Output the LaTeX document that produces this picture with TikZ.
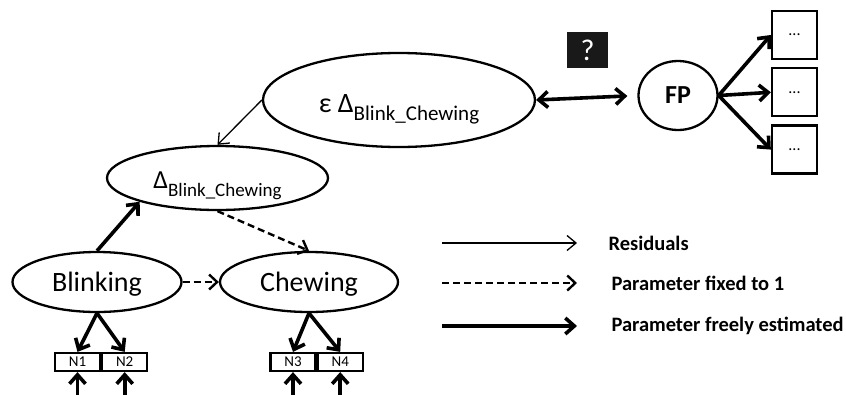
\documentclass[tikz,border=0pt]{standalone}
\usepackage{fontspec}
\setmainfont{Carlito}
\usetikzlibrary{arrows.meta,positioning,shapes.geometric}

\begin{document}
\begin{tikzpicture}[
    x=1pt, y=-1pt,
    latent/.style={ellipse,draw,line width=2.3pt,inner sep=0pt},
    indic/.style={rectangle,draw,line width=2.2pt,minimum width=45pt,minimum height=18pt,inner sep=0pt,font=\fontsize{15}{16}\selectfont},
    outbox/.style={rectangle,draw,line width=2.3pt,minimum width=45pt,minimum height=48pt,inner sep=0pt,font=\fontsize{16}{16}\selectfont},
    resid/.style={line width=1.3pt,-{Straight Barb[length=9pt,width=15pt]}},
    fixed/.style={line width=2.4pt,dash pattern=on 7pt off 4pt,-{Straight Barb[length=8pt,width=15pt]}},
    free/.style={line width=3.6pt,-{Straight Barb[length=9pt,width=16pt]}},
    legtext/.style={anchor=west,font=\fontsize{20.5}{22}\selectfont\bfseries}
]
    \useasboundingbox (0,0) rectangle (846,394);

    % latent variables
    \node[latent,minimum width=272pt,minimum height=94pt,text height=26pt,text depth=2pt,
          font=\fontsize{28}{30}\selectfont] (Eps) at (399,100)
          {ε Δ\raisebox{-8pt}{\fontsize{21}{22}\selectfont Blink\_Chewing}};
    \node[latent,minimum width=221pt,minimum height=64pt,text height=22pt,text depth=2pt,
          font=\fontsize{26}{28}\selectfont] (Delta) at (217.5,178)
          {Δ\raisebox{-8pt}{\fontsize{19}{20}\selectfont Blink\_Chewing}};
    \node[latent,minimum width=169pt,minimum height=60pt,text height=20pt,text depth=2pt,
          font=\fontsize{28}{30}\selectfont] (Blink) at (97,282) {Blinking};
    \node[latent,minimum width=178pt,minimum height=60pt,text height=20pt,text depth=2pt,
          font=\fontsize{28}{30}\selectfont] (Chew) at (309,282) {Chewing};
    \node[latent,minimum width=79pt,minimum height=69pt,font=\fontsize{26}{28}\selectfont\bfseries] (FP) at (678,95.5) {FP};

    % indicators
    \node[indic] (N1) at (77.5,362) {N1};
    \node[indic,right=0pt of N1] (N2) {N2};
    \node[indic] (N3) at (293,362) {N3};
    \node[indic,right=0pt of N3] (N4) {N4};

    % boxes on the right
    \node[outbox] (O1) at (794.5,35) {...};
    \node[outbox,below=7pt of O1] (O2) {...};
    \node[outbox,below=7pt of O2] (O3) {...};

    \node[fill=black!90,minimum width=41pt,minimum height=36pt,inner sep=0pt,
          text=white,font=\fontsize{30}{30}\selectfont] (Q) at (587.5,50) {?};

    % paths
    \draw[resid] (Eps.west) -- (Delta.north);
    \draw[free] (Blink.north) -- (Delta.197);
    \draw[fixed] (Delta.south) -- (Chew.north);
    \draw[fixed] (Blink.east) -- (Chew.west);
    \draw[free] (Blink.south) -- (N1.north);
    \draw[free] (Blink.south) -- (N2.north);
    \draw[free] (Chew.south) -- (N3.north);
    \draw[free] (Chew.south) -- (N4.north);
    \foreach \n in {N1,N2,N3,N4} {
        \coordinate (e\n) at ([yshift=-23pt]\n.south);
        \draw[free] (e\n) -- (\n.south);
    }
    \draw[free,{Straight Barb[length=9pt,width=16pt]}-{Straight Barb[length=9pt,width=16pt]},shorten >=10pt]
        (Eps.east) -- (FP.west);
    \draw[free] (FP.east) -- (O1.west);
    \draw[free] (FP.east) -- (O2.west);
    \draw[free] (FP.east) -- (O3.west);

    % legend
    \coordinate (l1) at (442,243);
    \coordinate (l1e) at (577,243);
    \coordinate (l2) at (442,283);
    \coordinate (l2e) at (577,283);
    \coordinate (l3) at (442,326);
    \coordinate (l3e) at (577,326);
    \draw[resid] (l1) -- (l1e);
    \draw[fixed] (l2) -- (l2e);
    \draw[free] (l3) -- (l3e);
    \node[legtext,right=28pt of l1e] (Res) {Residuals};
    \node[legtext,right=31pt of l2e] (Fix) {Parameter fixed to 1};
    \node[legtext,right=31pt of l3e] (Free) {Parameter freely estimated};
\end{tikzpicture}
\end{document}
